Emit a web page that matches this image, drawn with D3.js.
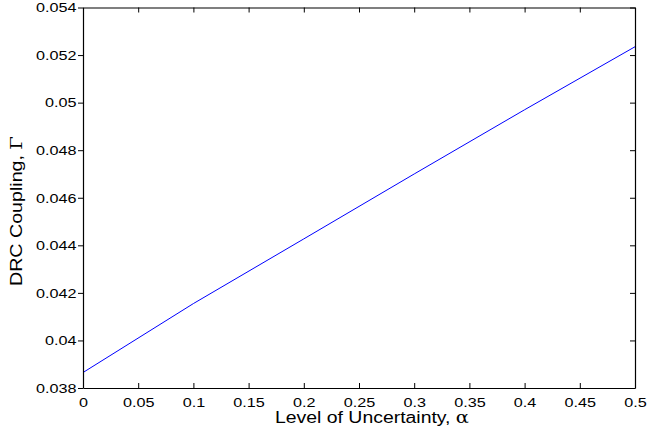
<!DOCTYPE html>
<html>
<head>
<meta charset="utf-8">
<script src="https://cdn.jsdelivr.net/npm/d3@7/dist/d3.min.js"></script>
<style>
  html, body { margin: 0; padding: 0; background: #fff; }
  svg { display: block; }
  text { font-family: "Liberation Sans", Arial, Helvetica, sans-serif; fill: #000; }
</style>
</head>
<body>
<svg id="chart" width="647" height="439"></svg>
<script>
// Data
const alphaValues = [0, 0.1, 0.2, 0.3, 0.4, 0.5];
const couplingValues = [0.03865, 0.04155, 0.04427, 0.04700, 0.04970, 0.05235];
const xTicks = [0, 0.05, 0.1, 0.15, 0.2, 0.25, 0.3, 0.35, 0.4, 0.45, 0.5];
const yTicks = [0.038, 0.04, 0.042, 0.044, 0.046, 0.048, 0.05, 0.052, 0.054];
const xLabelText = "Level of Uncertainty, ";
const yLabelText = "DRC Coupling, ";

const svg = d3.select("#chart");
const margin = { left: 83, top: 7.5, right: 12, bottom: 51 };
const W = 647, H = 439;
const x = d3.scaleLinear().domain([0, 0.5]).range([margin.left, W - margin.right]);
const y = d3.scaleLinear().domain([0.038, 0.054]).range([H - margin.bottom, margin.top]);
const tickLen = 5;
const stretch = 1.2;
const fmt = d => String(+d.toFixed(3));

// line
const line = d3.line().x((d, i) => x(alphaValues[i])).y(d => y(d));
svg.append("path")
  .datum(couplingValues)
  .attr("d", line)
  .attr("fill", "none")
  .attr("stroke", "#0000ff")
  .attr("stroke-width", 1);

// bottom axis (ticks inward)
const gx = svg.append("g").attr("transform", `translate(0,${y(0.038)})`)
  .call(d3.axisBottom(x).tickValues(xTicks).tickFormat(fmt).tickSizeInner(-tickLen).tickSizeOuter(0).tickPadding(9));
// top axis
const gxt = svg.append("g").attr("transform", `translate(0,${y(0.054)})`)
  .call(d3.axisTop(x).tickValues(xTicks).tickFormat("").tickSizeInner(-tickLen).tickSizeOuter(0));
// left axis (ticks outward)
const gy = svg.append("g").attr("transform", `translate(${x(0)},0)`)
  .call(d3.axisLeft(y).tickValues(yTicks).tickFormat(fmt).tickSizeInner(tickLen).tickSizeOuter(0).tickPadding(1.5));
// right axis
const gyr = svg.append("g").attr("transform", `translate(${x(0.5)},0)`)
  .call(d3.axisRight(y).tickValues(yTicks).tickFormat("").tickSizeInner(-tickLen).tickSizeOuter(0));

[gx, gxt, gy, gyr].forEach(g => {
  g.select(".domain").attr("stroke", "#000").attr("stroke-width", 1.2);
  g.selectAll(".tick line").attr("stroke", "#000").attr("stroke-width", 1);
  g.selectAll(".tick text").style("font-size", "13.5px").attr("fill", "#000")
    .style("font-family", '"Liberation Sans", Arial, sans-serif')
    .each(function () {
      const t = d3.select(this);
      const tx = +t.attr("x") || 0;
      t.attr("x", 0).attr("transform", `translate(${tx},0) scale(${stretch},1)`);
    });
});

// axis titles
const xl = svg.append("text")
  .attr("x", 275)
  .attr("y", 423)
  .attr("textLength", 194)
  .attr("lengthAdjust", "spacingAndGlyphs")
  .style("font-size", "16px");
xl.append("tspan").text(xLabelText);
xl.append("tspan").style("font-family", '"DejaVu Serif", serif').text("α");

const yl = svg.append("text")
  .attr("transform", `translate(21.5,286) rotate(-90)`)
  .attr("textLength", 150)
  .attr("lengthAdjust", "spacingAndGlyphs")
  .style("font-size", "16px");
yl.append("tspan").text(yLabelText);
yl.append("tspan").style("font-family", '"DejaVu Serif", serif').text("Γ");
</script>
</body>
</html>
